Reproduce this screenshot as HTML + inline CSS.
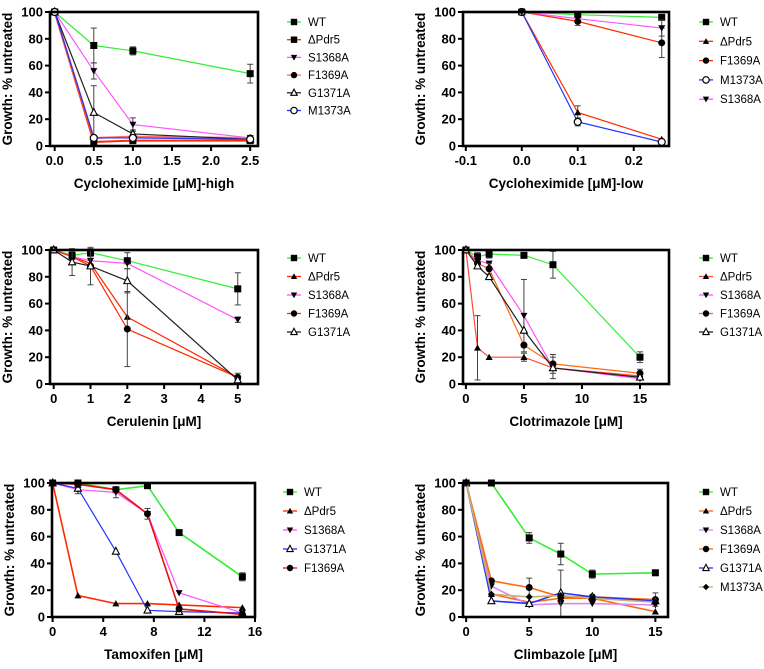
<!DOCTYPE html>
<html><head><meta charset="utf-8"><style>
html,body{margin:0;padding:0;background:#fff;}
svg{display:block;font-family:"Liberation Sans",Arial,sans-serif;}
</style></head><body>
<svg id="fig" width="764" height="669" viewBox="0 0 764 669"></svg>
<script>
// ---- Panel 1 data: Cycloheximide high
const p1X=[0,0.5,1,2.5];
const p1WT=[100,75,71,54]; const p1WTe=[0,13,3,7];
const p1Pdr5=[100,3,4,4];
const p1S1368A=[100,56,16,6]; const p1S1368Ae=[0,6,5,0];
const p1F1369A=[100,6,7,6];
const p1G1371A=[100,25,9,5]; const p1G1371Ae=[0,20,3,0];
const p1M1373A=[100,6,6,5];
const p1XTicks=[0,0.5,1,1.5,2,2.5]; const p1XTickLabels=["0.0","0.5","1.0","1.5","2.0","2.5"];
// ---- Panel 2 data: Cycloheximide low
const p2X=[0,0.1,0.25];
const p2WT=[100,98,96];
const p2Pdr5=[100,25,5]; const p2Pdr5e=[0,5,0];
const p2F1369A=[100,93,77]; const p2F1369Ae=[0,3,11];
const p2M1373A=[100,18,3]; const p2M1373Ae=[0,3,0];
const p2S1368A=[100,95,88]; const p2S1368Ae=[0,0,6];
const p2XTicks=[-0.1,0,0.1,0.2]; const p2XTickLabels=["-0.1","0.0","0.1","0.2"];
// ---- Panel 3 data: Cerulenin
const p3X=[0,0.5,1,2,5];
const p3WT=[100,96,98,92,71]; const p3WTe=[0,3,3,6,12];
const p3Pdr5=[100,95,90,50,5];
const p3S1368A=[100,95,92,90,48]; const p3S1368Ae=[0,0,0,0,2];
const p3F1369A=[100,95,88,41,5]; const p3F1369Ae=[0,0,0,28,3];
const p3G1371A=[100,91,88,77,3]; const p3G1371Ae=[0,10,14,9,0];
const p3XTicks=[0,1,2,3,4,5]; const p3XTickLabels=["0","1","2","3","4","5"];
// ---- Panel 4 data: Clotrimazole
const p4X=[0,1,2,5,7.5,15];
const p4WT=[100,95,97,96,89,20]; const p4WTe=[0,3,3,2,10,4];
const p4Pdr5=[100,27,20,20,12,6]; const p4Pdr5e=[0,24,0,3,0,0];
const p4S1368A=[100,92,90,51,12,4]; const p4S1368Ae=[0,0,0,27,8,0];
const p4F1369A=[100,90,86,29,15,8]; const p4F1369Ae=[0,0,4,0,7,3];
const p4G1371A=[100,88,80,40,12,5];
const p4XTicks=[0,5,10,15]; const p4XTickLabels=["0","5","10","15"];
// ---- Panel 5 data: Tamoxifen
const p5X=[0,2,5,7.5,10,15];
const p5WT=[100,100,95,98,63,30]; const p5WTe=[0,0,0,0,0,3];
const p5Pdr5=[100,16,10,10,9,7];
const p5S1368A=[100,95,93,77,18,3]; const p5S1368Ae=[0,3,4,4,0,0];
const p5G1371A=[100,96,49,5,4,3];
const p5F1369A=[100,99,95,77,6,2];
const p5XTicks=[0,4,8,12,16]; const p5XTickLabels=["0","4","8","12","16"];
// ---- Panel 6 data: Climbazole
const p6X=[0,2,5,7.5,10,15];
const p6WT=[100,100,59,47,32,33]; const p6WTe=[0,0,4,8,3,0];
const p6Pdr5=[100,17,11,14,14,4];
const p6S1368A=[100,23,9,10,10,9];
const p6F1369A=[100,27,22,15,15,13]; const p6F1369Ae=[0,0,7,20,0,5];
const p6G1371A=[100,12,10,18,15,12];
const p6M1373A=[100,17,15,16,14,11];
const p6XTicks=[0,5,10,15]; const p6XTickLabels=["0","5","10","15"];
const yTicks=[0,20,40,60,80,100];

const NS="http://www.w3.org/2000/svg";
const svg=document.getElementById('fig');
function mk(tag,attrs,parent){const e=document.createElementNS(NS,tag);for(const k in attrs)e.setAttribute(k,attrs[k]);(parent||svg).appendChild(e);return e;}

function marker(g,shape,cx,cy,color,s){
  s=s||3.5;
  let e;
  if(shape==='sq') e=mk('rect',{x:cx-s,y:cy-s,width:2*s,height:2*s,fill:'#000'},g);
  else if(shape==='ci') e=mk('circle',{cx:cx,cy:cy,r:s,fill:'#000'},g);
  else if(shape==='oci') e=mk('circle',{cx:cx,cy:cy,r:s,fill:'#fff',stroke:'#000','stroke-width':1.2},g);
  else if(shape==='tri') e=mk('polygon',{points:`${cx},${cy-s} ${cx-s},${cy+s*0.8} ${cx+s},${cy+s*0.8}`,fill:'#000'},g);
  else if(shape==='otri') e=mk('polygon',{points:`${cx},${cy-s-0.5} ${cx-s},${cy+s*0.8} ${cx+s},${cy+s*0.8}`,fill:'#fff',stroke:'#000','stroke-width':1.1},g);
  else if(shape==='dtri') e=mk('polygon',{points:`${cx},${cy+s} ${cx-s},${cy-s*0.8} ${cx+s},${cy-s*0.8}`,fill:'#000'},g);
  else if(shape==='dia') e=mk('polygon',{points:`${cx},${cy-s} ${cx-s},${cy} ${cx},${cy+s} ${cx+s},${cy}`,fill:'#000'},g);
  
  
}

function panel(p){
  const g=mk('g',{});
  
  
  const xs=v=>p.L+(v-p.xmin)/(p.xmax-p.xmin)*(p.R-p.L);
  const ys=v=>p.B-(v-0)/100*(p.B-p.T);
  p.series.forEach(s=>{
    const sg=mk('g',{},g);
    
    
    const pts=p.x.map((xv,i)=>xs(xv)+','+ys(s.y[i])).join(' ');
    const pl=mk('polyline',{points:pts,fill:'none',stroke:s.c,'stroke-width':s.w||1.2},sg);
    
    
    if(s.e){p.x.forEach((xv,i)=>{const e=s.e[i];if(!e)return;const X=xs(xv);
      mk('line',{x1:X,x2:X,y1:ys(s.y[i]+e),y2:ys(Math.max(0,s.y[i]-e)),stroke:'#444','stroke-width':1},sg);
      mk('line',{x1:X-3,x2:X+3,y1:ys(s.y[i]+e),y2:ys(s.y[i]+e),stroke:'#444','stroke-width':1},sg);
      mk('line',{x1:X-3,x2:X+3,y1:ys(Math.max(0,s.y[i]-e)),y2:ys(Math.max(0,s.y[i]-e)),stroke:'#444','stroke-width':1},sg);});}
    p.x.forEach((xv,i)=>marker(sg,s.m,xs(xv),ys(s.y[i]),s.c));
  });
  const fr=mk('rect',{x:p.L,y:p.T,width:p.R-p.L,height:p.B-p.T,fill:'none',stroke:'#000','stroke-width':2.6},g);
  
  yTicks.forEach(t=>{const Y=ys(t);
    mk('line',{x1:p.L-5,x2:p.L,y1:Y,y2:Y,stroke:'#000','stroke-width':2},g);
    const tx=mk('text',{x:p.L-7,y:Y+4.5,'text-anchor':'end','font-size':13,'font-weight':'bold'},g);
    tx.textContent=t;});
  p.xt.forEach((t,i)=>{const X=xs(t);
    mk('line',{x1:X,x2:X,y1:p.B,y2:p.B+5,stroke:'#000','stroke-width':2},g);
    const tx=mk('text',{x:X,y:p.B+19,'text-anchor':'middle','font-size':13,'font-weight':'bold'},g);
    tx.textContent=p.xtl[i];});
  const xt=mk('text',{x:(p.L+p.R)/2,y:p.B+42,'text-anchor':'middle','font-size':13.5,'font-weight':'bold'},g);
  xt.textContent=p.xtitle;
  const yc=(p.T+p.B)/2;const yx=p.L-38;
  const yt=mk('text',{x:yx,y:yc,'text-anchor':'middle','font-size':13.5,'font-weight':'bold',transform:`rotate(-90 ${yx} ${yc})`},g);
  yt.textContent='Growth: % untreated';
  p.series.forEach((s,i)=>{const Y=p.lt+i*p.ls;
    const lg=mk('g',{},g);
    
    
    mk('line',{x1:p.lx,x2:p.lx+14,y1:Y,y2:Y,stroke:s.c,'stroke-width':1.3},lg);
    marker(lg,s.m,p.lx+7,Y,s.c,3.2);
    const tx=mk('text',{x:p.lx+21,y:Y+4,'font-size':11.5},lg);tx.textContent=s.label;});
}

const G='#33ee33',RD='#ff2a00',MG='#ff55ff',BK='#222',BL='#2233ff',OR='#ff6a10',VI='#d888ee',TN='#c8b070';
panel({name:'panel-cycloheximide-high',L:50,R:258,T:12,B:146,xmin:-0.06,xmax:2.6,x:p1X,xt:p1XTicks,xtl:p1XTickLabels,
  xtitle:'Cycloheximide [μM]-high',lx:287,lt:22,ls:17.7,series:[
  {label:'WT',y:p1WT,e:p1WTe,c:G,m:'sq'},{label:'ΔPdr5',y:p1Pdr5,c:RD,m:'sq',w:2},
  {label:'S1368A',y:p1S1368A,e:p1S1368Ae,c:MG,m:'dtri'},{label:'F1369A',y:p1F1369A,c:'#ff7060',m:'ci',w:2},
  {label:'G1371A',y:p1G1371A,e:p1G1371Ae,c:BK,m:'otri'},{label:'M1373A',y:p1M1373A,c:BL,m:'oci'}]});
panel({name:'panel-cycloheximide-low',L:463,R:669,T:12,B:146,xmin:-0.105,xmax:0.263,x:p2X,xt:p2XTicks,xtl:p2XTickLabels,
  xtitle:'Cycloheximide [μM]-low',lx:699,lt:22,ls:19.3,series:[
  {label:'WT',y:p2WT,c:G,m:'sq'},{label:'ΔPdr5',y:p2Pdr5,e:p2Pdr5e,c:RD,m:'tri'},
  {label:'F1369A',y:p2F1369A,e:p2F1369Ae,c:RD,m:'ci'},{label:'M1373A',y:p2M1373A,e:p2M1373Ae,c:BL,m:'oci'},
  {label:'S1368A',y:p2S1368A,e:p2S1368Ae,c:MG,m:'dtri'}]});
panel({name:'panel-cerulenin',L:50,R:258,T:250,B:384,xmin:-0.1,xmax:5.55,x:p3X,xt:p3XTicks,xtl:p3XTickLabels,
  xtitle:'Cerulenin [μM]',lx:287,lt:258,ls:18.5,series:[
  {label:'WT',y:p3WT,e:p3WTe,c:G,m:'sq'},{label:'ΔPdr5',y:p3Pdr5,c:RD,m:'tri'},
  {label:'S1368A',y:p3S1368A,e:p3S1368Ae,c:MG,m:'dtri'},{label:'F1369A',y:p3F1369A,e:p3F1369Ae,c:RD,m:'ci'},
  {label:'G1371A',y:p3G1371A,e:p3G1371Ae,c:BK,m:'otri'}]});
panel({name:'panel-clotrimazole',L:463,R:669,T:250,B:384,xmin:-0.25,xmax:17.5,x:p4X,xt:p4XTicks,xtl:p4XTickLabels,
  xtitle:'Clotrimazole [μM]',lx:699,lt:258,ls:18.5,series:[
  {label:'WT',y:p4WT,e:p4WTe,c:G,m:'sq'},{label:'ΔPdr5',y:p4Pdr5,e:p4Pdr5e,c:'#ff4a3a',m:'tri'},
  {label:'S1368A',y:p4S1368A,e:p4S1368Ae,c:MG,m:'dtri'},{label:'F1369A',y:p4F1369A,e:p4F1369Ae,c:OR,m:'ci'},
  {label:'G1371A',y:p4G1371A,c:BK,m:'otri'}]});
panel({name:'panel-tamoxifen',L:52,R:255,T:483,B:617,xmin:-0.05,xmax:16,x:p5X,xt:p5XTicks,xtl:p5XTickLabels,
  xtitle:'Tamoxifen [μM]',lx:283,lt:492,ls:19,series:[
  {label:'WT',y:p5WT,e:p5WTe,c:G,m:'sq',w:1.6},{label:'ΔPdr5',y:p5Pdr5,c:RD,m:'tri',w:1.6},
  {label:'S1368A',y:p5S1368A,e:p5S1368Ae,c:MG,m:'dtri'},{label:'G1371A',y:p5G1371A,c:BL,m:'otri'},
  {label:'F1369A',y:p5F1369A,c:'#e81010',m:'ci',w:1.6}]});
panel({name:'panel-climbazole',L:463,R:668,T:483,B:617,xmin:-0.25,xmax:16,x:p6X,xt:p6XTicks,xtl:p6XTickLabels,
  xtitle:'Climbazole [μM]',lx:699,lt:492,ls:19,series:[
  {label:'WT',y:p6WT,e:p6WTe,c:G,m:'sq',w:1.6},{label:'ΔPdr5',y:p6Pdr5,c:OR,m:'tri',w:1.6},
  {label:'S1368A',y:p6S1368A,c:VI,m:'dtri',w:1.6},{label:'F1369A',y:p6F1369A,e:p6F1369Ae,c:OR,m:'ci',w:1.6},
  {label:'G1371A',y:p6G1371A,c:BL,m:'otri',w:1.6},{label:'M1373A',y:p6M1373A,c:TN,m:'dia',w:1.6}]});
</script>
</body></html>
